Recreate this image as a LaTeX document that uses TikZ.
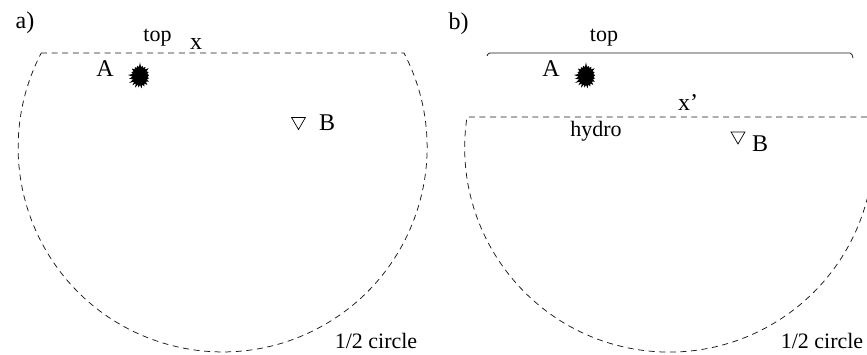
\documentclass[tikz,border=0pt]{standalone}
\usepackage{fontspec}
\setmainfont{Liberation Serif}
\usetikzlibrary{positioning,shapes}

\begin{document}
\begin{tikzpicture}[
  x=1pt,y=1pt,
  font=\fontsize{22}{24}\selectfont,
  % Styles
  txt/.style={anchor=base,inner sep=0pt,text=black},
  bigtxt/.style={txt,font=\fontsize{24}{26}\selectfont},
  burst/.style={starburst,starburst points=21,starburst point height=5pt,random starburst=7,draw=none,fill=black,inner sep=0pt,minimum width=25pt,minimum height=28pt},
  probe/.style={regular polygon,regular polygon sides=3,shape border rotate=180,draw,line width=0.7pt,inner sep=0pt,minimum size=16pt},
  dashedline/.style={dashed,dash pattern=on 6pt off 4.6pt,line width=0.75pt,black!90},
  ]
\useasboundingbox (0,0) rectangle (867,354);

%--- Panel a --------------------------------------------------
\node[bigtxt] (laba) at (25,325) {a)};
\node[txt] (topa) at (157.5,312) {top};
\node[bigtxt] (xa) at (196,304) {x};
\node[bigtxt] (Aa) at (105,277) {A};
\node[burst] (stara) at (140,278) {};
\node[probe] (triaa) at (298.5,232.5) {};
\node[bigtxt] (Ba) at (327,223) {B};
\node[txt] (circa) at (376,6) {1/2 circle};

% Flat top and the circle below it
\coordinate (la) at (41,301);
\coordinate (ra) at (404,301);
\draw[dashedline] (la) -- (ra) arc[start angle=27.5,end angle=-207.5,radius=204.5];

%--- Panel b --------------------------------------------------
\node[bigtxt] (labb) at (458.5,324) {b)};
\node[txt] (topb) at (604,312) {top};
\node[bigtxt] (Ab) at (551,277) {A};
\node[burst] (starb) at (586,278) {};
\node[bigtxt] (xb) at (688,243.3) {x'};
\node[txt] (hydro) at (596,217) {hydro};
\node[probe] (triab) at (738,218) {};
\node[bigtxt] (Bb) at (760,202.3) {B};
\node[txt] (circb) at (822,6) {1/2 circle};

% Solid top
\coordinate (lt) at (487,298);
\coordinate (rt) at (853,296);
\draw[line width=0.75pt,black!90] (lt) to[out=70,in=180] (490,301) -- (850,301) to[out=0,in=110] (rt);

% Hydro level and the circle below it
\coordinate (lb) at (467,237);
\coordinate (rb) at (867,237);
\draw[dashedline] (rb) -- (lb) arc[start angle=171.4,end angle=345.5,radius=204.5];

\end{tikzpicture}
\end{document}
